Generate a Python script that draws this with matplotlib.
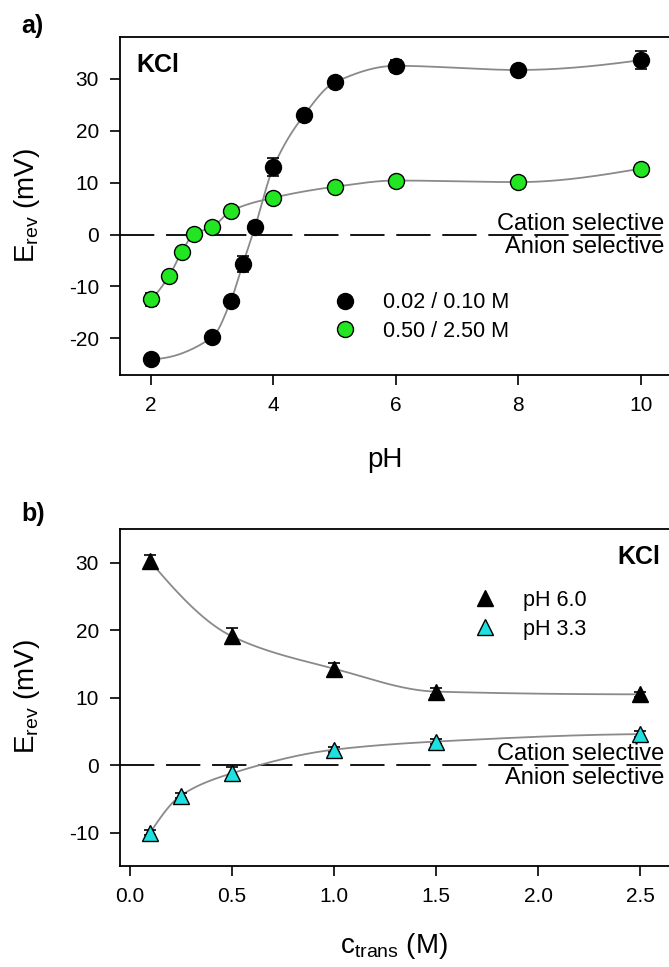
import numpy as np
import matplotlib
matplotlib.use("Agg")
import matplotlib.pyplot as plt

plt.rcParams['font.family'] = ['Liberation Sans', 'DejaVu Sans']
plt.rcParams['mathtext.fontset'] = 'custom'
plt.rcParams['mathtext.rm'] = 'Liberation Sans'
plt.rcParams['mathtext.it'] = 'Liberation Sans:italic'
plt.rcParams['axes.unicode_minus'] = False

# ---- Panel a data ----
ph_low = [2, 3, 3.3, 3.5, 3.7, 4, 4.5, 5, 6, 8, 10]
e_low = [-24.0, -19.8, -12.9, -5.7, 1.5, 13.0, 23.0, 29.3, 32.5, 31.7, 33.6]
err_low = [0.6, 0.6, 0.9, 1.5, 1.0, 1.8, 0.6, 0.6, 1.2, 0.5, 1.8]
ph_high = [2, 2.3, 2.5, 2.7, 3, 3.3, 4, 5, 6, 8, 10]
e_high = [-12.5, -7.9, -3.4, 0.1, 1.4, 4.5, 7.1, 9.2, 10.4, 10.1, 12.7]
err_high = [1.3, 0.4, 0.4, 0.4, 0.4, 0.4, 0.4, 0.4, 0.4, 0.4, 0.4]
labels_a = ['0.02 / 0.10 M', '0.50 / 2.50 M']
xticks_a = [2, 4, 6, 8, 10]
yticks_a = [-20, -10, 0, 10, 20, 30]

# ---- Panel b data ----
c_ph6 = [0.1, 0.5, 1.0, 1.5, 2.5]
e_ph6 = [30.2, 19.1, 14.3, 10.9, 10.5]
err_ph6 = [1.0, 1.2, 0.9, 0.5, 0.4]
c_ph33 = [0.1, 0.25, 0.5, 1.0, 1.5, 2.5]
e_ph33 = [-10.0, -4.5, -1.2, 2.3, 3.5, 4.6]
err_ph33 = [0.4, 0.4, 1.0, 0.4, 0.4, 0.4]
labels_b = ['pH 6.0', 'pH 3.3']
xticks_b = [0.0, 0.5, 1.0, 1.5, 2.0, 2.5]
yticks_b = [-10, 0, 10, 20, 30]


def pchip(x, y, xs):
    x = np.asarray(x, float); y = np.asarray(y, float)
    h = np.diff(x); d = np.diff(y) / h
    n = len(x); m = np.zeros(n)
    for k in range(1, n - 1):
        if d[k - 1] * d[k] <= 0:
            m[k] = 0
        else:
            w1 = 2 * h[k] + h[k - 1]; w2 = h[k] + 2 * h[k - 1]
            m[k] = (w1 + w2) / (w1 / d[k - 1] + w2 / d[k])
    def endm(h0, h1, d0, d1):
        v = ((2 * h0 + h1) * d0 - h0 * d1) / (h0 + h1)
        if np.sign(v) != np.sign(d0):
            v = 0
        elif np.sign(d0) != np.sign(d1) and abs(v) > abs(3 * d0):
            v = 3 * d0
        return v
    m[0] = endm(h[0], h[1], d[0], d[1])
    m[-1] = endm(h[-1], h[-2], d[-1], d[-2])
    idx = np.clip(np.searchsorted(x, xs) - 1, 0, n - 2)
    t = (xs - x[idx]) / h[idx]
    h00 = 2 * t**3 - 3 * t**2 + 1; h10 = t**3 - 2 * t**2 + t
    h01 = -2 * t**3 + 3 * t**2; h11 = t**3 - t**2
    return h00 * y[idx] + h10 * h[idx] * m[idx] + h01 * y[idx + 1] + h11 * h[idx] * m[idx + 1]


fig = plt.figure(figsize=(6.69, 9.67), dpi=100)
axa = fig.add_axes([0.179, 0.612, 0.821, 0.350])
axb = fig.add_axes([0.179, 0.104, 0.821, 0.349])

green = '#22e622'
cyan = '#1ee0e0'
curve_col = '#8a8a8a'
TICK_FS = 15
LAB_FS = 20
LEG_FS = 15.5
SEL_FS = 17

for ax in (axa, axb):
    ax.spines['right'].set_visible(False)
    for s in ('left', 'top', 'bottom'):
        ax.spines[s].set_linewidth(1.3)
    ax.tick_params(direction='out', length=7, width=1.2, labelsize=TICK_FS, pad=8,
                   top=False, right=False)
    ax.axhline(0, color='black', lw=1.3, dashes=(19, 6.5), zorder=1)

# Panel a
xs = np.linspace(2, 10, 400)
axa.plot(xs, pchip(ph_low, e_low, xs), color=curve_col, lw=1.3, zorder=2)
axa.plot(xs, pchip(ph_high, e_high, xs), color=curve_col, lw=1.3, zorder=2)
axa.errorbar(ph_low, e_low, yerr=err_low, fmt='none', ecolor='black', elinewidth=1.2,
             capsize=4.5, capthick=1.2, zorder=3)
axa.errorbar(ph_high, e_high, yerr=err_high, fmt='none', ecolor='black', elinewidth=1.2,
             capsize=4.5, capthick=1.2, zorder=3)
h1, = axa.plot(ph_low, e_low, 'o', ms=11.5, mfc='black', mec='black', mew=1, zorder=4, linestyle='none')
h2, = axa.plot(ph_high, e_high, 'o', ms=11.5, mfc=green, mec='black', mew=1, zorder=4, linestyle='none')
axa.set_xlim(1.49, 10.46)
axa.set_ylim(-27.1, 38.1)
axa.set_xticks(xticks_a)
axa.set_yticks(yticks_a)
axa.set_xlabel('pH', fontsize=LAB_FS, va='center')
axa.xaxis.set_label_coords(0.483, -0.251)
axa.set_ylabel(r'E$_{\rm rev}$ (mV)', fontsize=LAB_FS, va='center')
axa.yaxis.set_label_coords(-0.168, 0.5)
axa.legend([h1, h2], labels_a, loc='upper left', bbox_to_anchor=(0.355, 0.270), frameon=False,
           fontsize=LEG_FS, handletextpad=0.77, labelspacing=0.33, borderaxespad=0)
axa.text(0.031, 0.917, 'KCl', transform=axa.transAxes, fontsize=18, fontweight='bold',
         va='center', ha='left')
axa.text(0.991, 0.0, 'Cation selective', transform=axa.get_yaxis_transform(), fontsize=SEL_FS,
         ha='right', va='bottom')
axa.text(0.991, -0.3, 'Anion selective', transform=axa.get_yaxis_transform(), fontsize=SEL_FS,
         ha='right', va='top')
fig.text(21 / 669, 1 - 26 / 967, 'a)', fontsize=18, fontweight='bold', ha='left', va='center')

# Panel b
cs = np.linspace(0.1, 2.5, 400)
axb.plot(cs, pchip(c_ph6, e_ph6, cs), color=curve_col, lw=1.3, zorder=2)
axb.plot(cs, pchip(c_ph33, e_ph33, cs), color=curve_col, lw=1.3, zorder=2)
axb.errorbar(c_ph6, e_ph6, yerr=err_ph6, fmt='none', ecolor='black', elinewidth=1.2,
             capsize=4.5, capthick=1.2, zorder=3)
axb.errorbar(c_ph33, e_ph33, yerr=err_ph33, fmt='none', ecolor='black', elinewidth=1.2,
             capsize=4.5, capthick=1.2, zorder=3)
t1, = axb.plot(c_ph6, e_ph6, '^', ms=12, mfc='black', mec='black', mew=1, zorder=4, linestyle='none')
t2, = axb.plot(c_ph33, e_ph33, '^', ms=12, mfc=cyan, mec='black', mew=1, zorder=4, linestyle='none')
axb.set_xlim(-0.049, 2.64)
axb.set_ylim(-15, 35)
axb.set_xticks(xticks_b)
axb.set_xticklabels([f'{v:.1f}' for v in xticks_b])
axb.set_yticks(yticks_b)
axb.set_xlabel(r'c$_{\rm trans}$ (M)', fontsize=LAB_FS, va='center')
axb.xaxis.set_label_coords(0.5, -0.235)
axb.set_ylabel(r'E$_{\rm rev}$ (mV)', fontsize=LAB_FS, va='center')
axb.yaxis.set_label_coords(-0.168, 0.503)
axb.legend([t1, t2], labels_b, loc='upper left', bbox_to_anchor=(0.61, 0.845), frameon=False,
           fontsize=LEG_FS, handletextpad=0.77, labelspacing=0.37, borderaxespad=0)
axb.text(0.984, 0.918, 'KCl', transform=axb.transAxes, fontsize=18, fontweight='bold',
         va='center', ha='right')
axb.text(0.991, 0.0, 'Cation selective', transform=axb.get_yaxis_transform(), fontsize=SEL_FS,
         ha='right', va='bottom')
axb.text(0.991, -0.3, 'Anion selective', transform=axb.get_yaxis_transform(), fontsize=SEL_FS,
         ha='right', va='top')
fig.text(21 / 669, 1 - 514 / 967, 'b)', fontsize=18, fontweight='bold', ha='left', va='center')

fig.savefig('out.png', dpi=100)
